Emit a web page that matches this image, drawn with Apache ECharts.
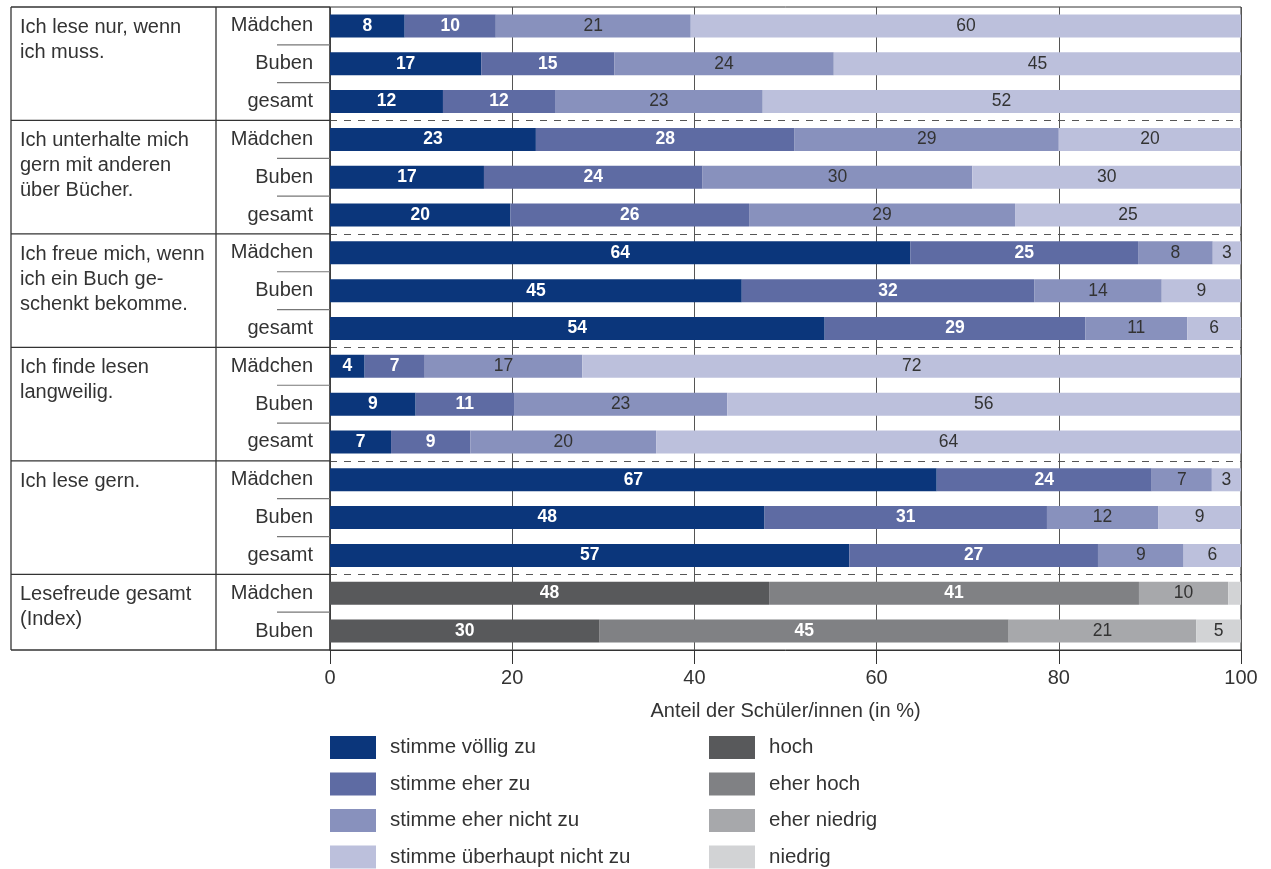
<!DOCTYPE html>
<html><head><meta charset="utf-8">
<script src="https://cdn.jsdelivr.net/npm/echarts@6/dist/echarts.min.js"></script>
<style>html,body{margin:0;padding:0;background:#fff}#c{width:1271px;height:869px}</style>
</head><body><div id="c"></div>
<script>
// ---- data ----
const groupLabels = ["Ich lese nur, wenn\nich muss.", "Ich unterhalte mich\ngern mit anderen\nüber Bücher.", "Ich freue mich, wenn\nich ein Buch ge-\nschenkt bekomme.", "Ich finde lesen\nlangweilig.", "Ich lese gern.", "Lesefreude gesamt\n(Index)"];
const groupSizes = [3, 3, 3, 3, 3, 2];
const rowLabels = ["Mädchen","Buben","gesamt","Mädchen","Buben","gesamt","Mädchen","Buben","gesamt","Mädchen","Buben","gesamt","Mädchen","Buben","gesamt","Mädchen","Buben"];
const blueNames = ["stimme völlig zu","stimme eher zu","stimme eher nicht zu","stimme überhaupt nicht zu"];
const grayNames = ["hoch","eher hoch","eher niedrig","niedrig"];
const voellig    = [8.2,16.6,12.4, 22.6,16.9,19.8, 63.7,45.2,54.3, 3.8,9.4,6.7, 66.6,47.7,57.0];
const eherZu     = [10.0,14.6,12.3, 28.4,24.0,26.2, 25.0,32.1,28.6, 6.6,10.8,8.7, 23.6,31.0,27.3];
const eherNicht  = [21.4,24.1,22.8, 29.0,29.6,29.2, 8.2,14.0,11.2, 17.3,23.4,20.4, 6.6,12.2,9.4];
const ueberhaupt = [60.4,44.7,52.4, 20.0,29.5,24.8, 3.1,8.7,5.9, 72.3,56.3,64.2, 3.2,9.1,6.3];
const hoch        = [48.2, 29.6];
const eherHoch    = [40.6, 44.9];
const eherNiedrig = [9.8, 20.6];
const niedrig     = [1.4, 4.9];
const xTicks = [0, 20, 40, 60, 80, 100];

const blueColors = ["#0b367b","#5e6ba3","#8891bd","#bcc0dc"];
const grayColors = ["#58595b","#808184","#a7a8ab","#d2d3d5"];
const FONT = "Liberation Sans";
const TXT = "#333";

const nBlue = voellig.length, nAll = rowLabels.length;
const cats = rowLabels.map((_, i) => String(i));
function padBlue(arr){ return cats.map((_, i) => i < nBlue ? arr[i] : '-'); }
function padGray(arr){ return cats.map((_, i) => i >= nBlue ? arr[i - nBlue] : '-'); }

function mkSeries(name, data, color, white){
  return {
    name, type: 'bar', stack: 'all', data, barWidth: 23,
    itemStyle: { color },
    emphasis: { disabled: true },
    label: {
      show: true, position: 'inside', fontFamily: FONT, fontSize: 17.5,
      color: white ? '#fff' : TXT, fontWeight: white ? 'bold' : 'normal',
      formatter: p => (p.value >= 2 ? Math.round(p.value) : '')
    }
  };
}
const blueData = [voellig, eherZu, eherNicht, ueberhaupt];
const grayData = [hoch, eherHoch, eherNiedrig, niedrig];
const series = [];
blueData.forEach((d, k) => series.push(mkSeries(blueNames[k], padBlue(d), blueColors[k], k < 2)));
grayData.forEach((d, k) => series.push(mkSeries(grayNames[k], padGray(d), grayColors[k], k < 2)));

const groupStarts = [];
let acc = 0;
groupSizes.forEach(s => { groupStarts.push(acc); acc += s; });

const chart = echarts.init(document.getElementById('c'), null, { renderer: 'canvas' });
const legendText = { fontFamily: FONT, fontSize: 20.5, color: TXT, padding: [0, 0, 0, 9] };
const legendBase = { orient: 'vertical', top: 736, height: 200, padding: 0, itemWidth: 46, itemHeight: 23, itemGap: 13.5, textStyle: legendText, icon: 'rect', selectedMode: false };
chart.setOption({
  animation: false,
  grid: { left: 330, right: 30, top: 7, bottom: 219, show: true, borderColor: '#333', borderWidth: 1, backgroundColor: 'transparent' },
  legend: [
    Object.assign({ data: blueNames, left: 330 }, legendBase),
    Object.assign({ data: grayNames, left: 709 }, legendBase)
  ],
  xAxis: {
    type: 'value', min: 0, max: 100, interval: 20,
    name: 'Anteil der Schüler/innen (in %)', nameLocation: 'middle', nameGap: 51,
    nameTextStyle: { fontFamily: FONT, fontSize: 20, color: TXT },
    axisLine: { show: true, lineStyle: { color: '#333', width: 1 } },
    axisTick: { show: true, length: 14, lineStyle: { color: '#333' } },
    axisLabel: { fontFamily: FONT, fontSize: 20, color: TXT, margin: 18, formatter: v => xTicks.includes(v) ? String(v) : '' },
    splitLine: { show: true, lineStyle: { color: '#555', width: 1 } }
  },
  yAxis: {
    type: 'category', data: cats, inverse: true,
    axisLine: { show: false }, axisTick: { show: false },
    axisLabel: { fontFamily: FONT, fontSize: 20, color: TXT, margin: 17, formatter: (v, i) => rowLabels[i] },
    splitLine: { show: true, interval: (i) => groupStarts.includes(i) && i > 0, lineStyle: { color: '#555', type: [7, 7], width: 1 } }
  },
  series
});

// Left-hand table drawn from axis positions
const yc = i => chart.convertToPixel({ yAxisIndex: 0 }, String(i));
const band = yc(1) - yc(0);
const topY = yc(0) - band / 2, botY = yc(nAll - 1) + band / 2;
const x0 = 11, x1 = 216, x2 = chart.convertToPixel({ xAxisIndex: 0 }, 0);
const g = [];
const lineStyle = { stroke: '#333', lineWidth: 1.3 };
g.push({ type: 'line', shape: { x1: x0, y1: topY, x2: x2, y2: topY }, style: lineStyle });
g.push({ type: 'line', shape: { x1: x0, y1: botY, x2: x2, y2: botY }, style: lineStyle });
[x0, x1, x2].forEach(x => g.push({ type: 'line', shape: { x1: x, y1: topY, x2: x, y2: botY }, style: lineStyle }));
groupStarts.forEach((s, gi) => {
  const yTop = yc(s) - band / 2;
  if (gi > 0) g.push({ type: 'line', shape: { x1: x0, y1: yTop, x2: x2, y2: yTop }, style: lineStyle });
  for (let k = 1; k < groupSizes[gi]; k++) {
    const yy = yc(s + k) - band / 2;
    g.push({ type: 'line', shape: { x1: 277, y1: yy, x2: x2, y2: yy }, style: { stroke: '#777', lineWidth: 1.2 } });
  }
  g.push({ type: 'text', x: 20, y: yc(s) - 11,
    style: { text: groupLabels[gi], fontFamily: FONT, fontSize: 20, fill: TXT, lineHeight: 25, verticalAlign: 'top', align: 'left' } });
});
chart.setOption({ graphic: g });
</script></body></html>
